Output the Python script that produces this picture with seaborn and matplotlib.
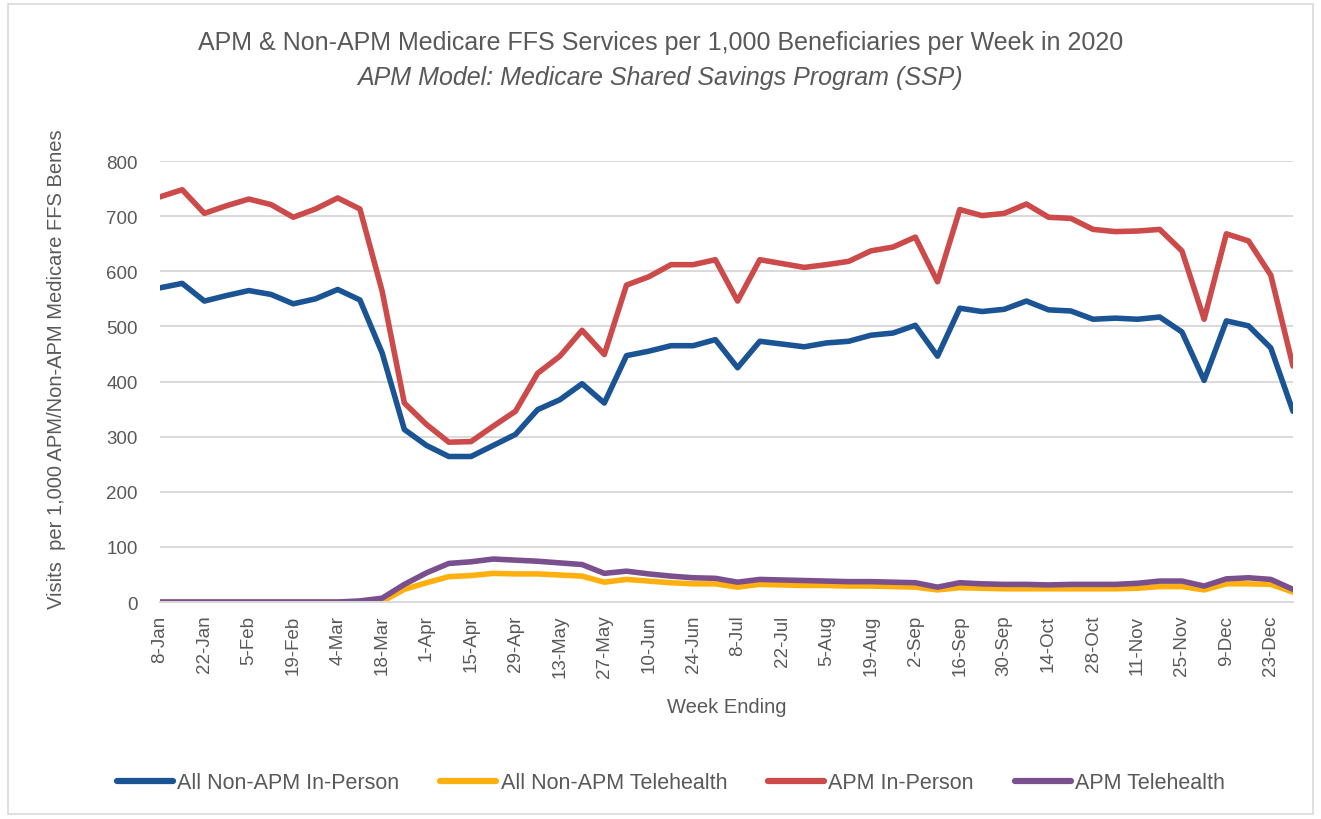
import pandas as pd
import matplotlib.pyplot as plt
import matplotlib.patches as mpatches
import seaborn as sns

weeks = ["8-Jan", "15-Jan", "22-Jan", "29-Jan", "5-Feb", "12-Feb", "19-Feb", "26-Feb",
         "4-Mar", "11-Mar", "18-Mar", "25-Mar", "1-Apr", "8-Apr", "15-Apr", "22-Apr",
         "29-Apr", "6-May", "13-May", "20-May", "27-May", "3-Jun", "10-Jun", "17-Jun",
         "24-Jun", "1-Jul", "8-Jul", "15-Jul", "22-Jul", "29-Jul", "5-Aug", "12-Aug",
         "19-Aug", "26-Aug", "2-Sep", "9-Sep", "16-Sep", "23-Sep", "30-Sep", "7-Oct",
         "14-Oct", "21-Oct", "28-Oct", "4-Nov", "11-Nov", "18-Nov", "25-Nov", "2-Dec",
         "9-Dec", "16-Dec", "23-Dec", "30-Dec"]

non_apm_in_person = [570, 578, 546, 556, 565, 558, 541, 550, 567, 548,
                     452, 313, 284, 264, 264, 284, 304, 349, 367, 396,
                     361, 447, 455, 465, 465, 476, 425, 473, 468, 463,
                     470, 473, 484, 488, 502, 446, 533, 527, 531, 546,
                     530, 528, 513, 515, 513, 517, 490, 402, 510, 501,
                     461, 346]

non_apm_telehealth = [0, 0, 0, 0, 0, 0, 0, 0, 0, 0,
                      1, 23, 35, 46, 48, 52, 51, 51, 49, 47,
                      36, 41, 38, 35, 33, 33, 27, 32, 31, 30,
                      30, 29, 29, 28, 27, 22, 26, 25, 24, 24,
                      24, 24, 24, 24, 25, 28, 28, 22, 33, 33,
                      32, 18]

apm_in_person = [735, 748, 705, 719, 731, 721, 698, 713, 733, 713,
                 564, 361, 322, 290, 291, 319, 346, 415, 446, 493,
                 449, 575, 590, 612, 612, 621, 546, 621, 614, 607,
                 612, 618, 637, 644, 662, 581, 712, 701, 705, 722,
                 698, 696, 676, 672, 673, 676, 637, 513, 668, 655,
                 593, 428]

apm_telehealth = [0, 0, 0, 0, 0, 0, 0, 0, 0, 2,
                  7, 32, 53, 70, 73, 78, 76, 74, 71, 68,
                  52, 56, 51, 47, 44, 43, 36, 41, 40, 39,
                  38, 37, 37, 36, 35, 27, 35, 33, 32, 32,
                  31, 32, 32, 32, 34, 38, 38, 29, 42, 44,
                  41, 23]

series_names = ["All Non-APM In-Person", "All Non-APM Telehealth", "APM In-Person", "APM Telehealth"]
series_colors = ["#1B5495", "#FFB00F", "#CC4A4A", "#7A4F8E"]

frames = []
for name, vals in zip(series_names, [non_apm_in_person, non_apm_telehealth, apm_in_person, apm_telehealth]):
    frames.append(pd.DataFrame({"week": range(len(weeks)), "value": vals, "series": name}))
df = pd.concat(frames, ignore_index=True)

sns.set_style("white")
plt.rcParams['font.family'] = ['Liberation Sans', 'DejaVu Sans']
grey = "#595959"

fig = plt.figure(figsize=(13.21, 8.2), dpi=100)
ax = fig.add_axes([0.1211, 0.2646, 0.8577, 0.5378])

sns.lineplot(data=df, x="week", y="value", hue="series", hue_order=series_names,
             palette=series_colors, linewidth=4, ax=ax, legend=False)

ax.set_xlim(0, len(weeks) - 1)
ax.set_ylim(0, 800)
ax.set_yticks(range(0, 801, 100))
ax.grid(axis="y", color="#D9D9D9", linewidth=1.4)
ax.set_axisbelow(True)
for s in ["top", "right", "left"]:
    ax.spines[s].set_visible(False)
ax.spines["bottom"].set_color("#D9D9D9")
ax.spines["bottom"].set_linewidth(1.4)

ax.set_xticks(range(0, len(weeks), 2))
ax.set_xticklabels(weeks[::2], rotation=90)
ax.tick_params(axis="x", length=6, width=1.2, color="#D9D9D9", labelsize=13.5, labelcolor=grey, pad=3)
ax.tick_params(axis="y", length=0, labelsize=13.5, labelcolor=grey, pad=16)

ax.set_xlabel("Week Ending", fontsize=14.5, color=grey, labelpad=14)
ax.set_ylabel("Visits  per 1,000 APM/Non-APM Medicare FFS Benes", fontsize=14.5, color=grey)
ax.yaxis.set_label_coords(-0.083, 0.53)

fig.text(0.5, 0.948, "APM & Non-APM Medicare FFS Services per 1,000 Beneficiaries per Week in 2020",
         ha="center", va="center", fontsize=18, color=grey)
fig.text(0.5, 0.905, "APM Model: Medicare Shared Savings Program (SSP)",
         ha="center", va="center", fontsize=18, color=grey, style="italic")

handles = [plt.Line2D([0], [0], color=c, linewidth=4.5, solid_capstyle="round") for c in series_colors]
fig.legend(handles, series_names, loc="center", bbox_to_anchor=(0.508, 0.044), ncol=4, frameon=False,
           fontsize=15.5, labelcolor=grey, handlelength=2.6, handletextpad=0.2, columnspacing=1.9)

fig.patches.append(mpatches.Rectangle((0.006, 0.006), 0.988, 0.988, transform=fig.transFigure,
                                      fill=False, edgecolor="#D9D9D9", linewidth=1.2))

fig.savefig("out.png", dpi=100)
